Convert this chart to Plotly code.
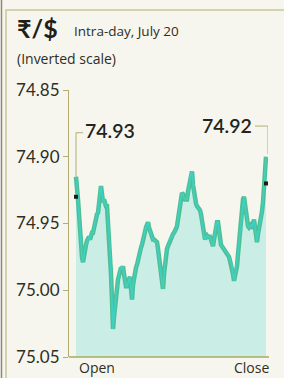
import plotly.graph_objects as go

# Intra-day rupee/dollar (inverted scale)
rate = [
    74.915, 74.921, 74.932, 74.943, 74.957, 74.968, 74.975, 74.979, 74.973, 74.969,
    74.966, 74.963, 74.962, 74.960, 74.962, 74.959, 74.957, 74.957, 74.953, 74.949,
    74.946, 74.943, 74.942, 74.932, 74.925, 74.922, 74.928, 74.934, 74.932, 74.936,
    74.937, 74.937, 74.947, 74.958, 74.969, 74.988, 75.007, 75.029, 75.020, 75.010,
    75.003, 74.999, 74.992, 74.988, 74.984, 74.983, 74.984, 74.982, 74.988, 74.993,
    74.997, 74.997, 74.993, 74.992, 74.990, 74.999, 75.007, 74.996, 74.990, 74.987,
    74.983, 74.981, 74.977, 74.975, 74.972, 74.968, 74.966, 74.962, 74.958, 74.956,
    74.953, 74.951, 74.949, 74.953, 74.956, 74.959, 74.960, 74.962, 74.962, 74.963,
    74.964, 74.964, 74.969, 74.975, 74.983, 74.990, 74.996, 74.999, 74.988, 74.978,
    74.973, 74.969, 74.967, 74.965, 74.962, 74.960, 74.960, 74.958, 74.957, 74.956,
    74.954, 74.952, 74.947, 74.940, 74.932, 74.930, 74.927, 74.928, 74.931, 74.932,
    74.932, 74.932, 74.926, 74.921, 74.916, 74.913, 74.911, 74.921, 74.928, 74.932,
    74.935, 74.937, 74.938, 74.939, 74.940, 74.943, 74.949, 74.954, 74.960, 74.962,
    74.960, 74.959, 74.960, 74.960, 74.960, 74.962, 74.966, 74.967, 74.962, 74.956,
    74.951, 74.949, 74.949, 74.956, 74.962, 74.966, 74.967, 74.968, 74.969, 74.970,
    74.971, 74.972, 74.973, 74.975, 74.978, 74.981, 74.982, 74.988, 74.993, 74.990,
    74.984, 74.982, 74.973, 74.964, 74.957, 74.949, 74.940, 74.932, 74.930, 74.936,
    74.943, 74.949, 74.952, 74.953, 74.952, 74.951, 74.952, 74.951, 74.947, 74.954,
    74.960, 74.964, 74.958, 74.954, 74.952, 74.947, 74.941, 74.934, 74.921, 74.910,
    74.900,
]
minutes = list(range(len(rate)))

open_rate = 74.93
close_rate = 74.92
open_label = "74.93"
close_label = "74.92"
y_ticks = [74.85, 74.90, 74.95, 75.00, 75.05]
y_tick_text = ["74.85", "74.90", "74.95", "75.00", "75.05"]
x_labels = ["Open", "Close"]
title_main = "₹/$"
title_sub = "Intra-day, July 20"
title_note = "(Inverted scale)"

W, H = 284, 378
ML, MR, MT, MB = 69, 16, 90, 21
PW, PH = W - ML - MR, H - MT - MB


def px(xp):
    return (xp - ML) / PW


def py(yp):
    return (H - MB - yp) / PH


FONT = "Lato, 'Noto Sans', 'DejaVu Sans', sans-serif"
FONT2 = "'Open Sans', 'Noto Sans', sans-serif"
TXT = "#2e2e24"
AXIS = "#b3ad73"
bottom = max(y_ticks)

fig = go.Figure()
fig.add_trace(go.Scatter(x=minutes, y=[bottom] * len(minutes), mode="lines",
                         line=dict(width=0, color="rgba(0,0,0,0)"),
                         hoverinfo="skip", showlegend=False))
fig.add_trace(go.Scatter(x=minutes, y=rate, mode="lines", fill="tonexty",
                         fillcolor="#caede6",
                         line=dict(color="#4fbe92", width=4.5),
                         showlegend=False))
fig.add_trace(go.Scatter(x=minutes, y=rate, mode="lines",
                         line=dict(color="#3fd0c2", width=1.8),
                         showlegend=False))
fig.add_trace(go.Scatter(x=[minutes[0], minutes[-1]], y=[open_rate, close_rate],
                         mode="markers",
                         marker=dict(color="#1d1d18", size=4, symbol="square"),
                         showlegend=False))

# leader lines
lead_open_y = 74.882
lead_close_y = 74.877
fig.add_shape(type="line", xref="x", yref="y", x0=minutes[0], x1=minutes[0],
              y0=rate[0], y1=lead_open_y, line=dict(color=AXIS, width=1))
fig.add_shape(type="line", xref="x", yref="y", x0=minutes[0], x1=minutes[0] + 7,
              y0=lead_open_y, y1=lead_open_y, line=dict(color=AXIS, width=1))
fig.add_shape(type="line", xref="x", yref="y", x0=minutes[-1] + 2, x1=minutes[-1] + 2,
              y0=rate[-1] - 0.002, y1=lead_close_y, line=dict(color=AXIS, width=1))
fig.add_shape(type="line", xref="x", yref="y", x0=minutes[-1] - 11, x1=minutes[-1] + 2,
              y0=lead_close_y, y1=lead_close_y, line=dict(color=AXIS, width=1))

fig.add_annotation(x=minutes[0] + 7, y=lead_open_y, xref="x", yref="y",
                   text=open_label, showarrow=False, xanchor="left", yanchor="middle",
                   yshift=2, font=dict(family=FONT, size=19.5, color="#24241c", weight=600))
fig.add_annotation(x=minutes[-1] - 12, y=lead_close_y, xref="x", yref="y",
                   text=close_label, showarrow=False, xanchor="right", yanchor="middle",
                   yshift=1, font=dict(family=FONT, size=19.5, color="#24241c", weight=600))

# Open / Close labels
fig.add_annotation(x=px(77), y=0, xref="paper", yref="paper", text=x_labels[0],
                   showarrow=False, xanchor="left", yanchor="top", yshift=1,
                   font=dict(family=FONT2, size=14, color=TXT))
fig.add_annotation(x=px(271), y=0, xref="paper", yref="paper", text=x_labels[1],
                   showarrow=False, xanchor="right", yanchor="top", yshift=1,
                   font=dict(family=FONT2, size=14, color=TXT))

# titles
fig.add_annotation(x=px(15), y=py(45), xref="paper", yref="paper", text="<b>" + title_main + "</b>",
                   showarrow=False, xanchor="left", yanchor="bottom",
                   font=dict(family=FONT, size=25, color="#1f1f18"))
fig.add_annotation(x=px(72), y=py(42), xref="paper", yref="paper", text=title_sub,
                   showarrow=False, xanchor="left", yanchor="bottom",
                   font=dict(family=FONT2, size=13.5, color=TXT))
fig.add_annotation(x=px(15), y=py(70), xref="paper", yref="paper", text=title_note,
                   showarrow=False, xanchor="left", yanchor="bottom",
                   font=dict(family=FONT2, size=14, color=TXT))

# frame
fig.add_shape(type="rect", xref="paper", yref="paper", x0=px(6), x1=px(300),
              y0=py(400), y1=py(10), line=dict(color="#c9c69a", width=1.5), layer="below")
fig.add_shape(type="line", xref="paper", yref="paper", x0=px(1.5), x1=px(1.5),
              y0=py(400), y1=py(-5), line=dict(color="#8a8a78", width=1.5), layer="below")

fig.update_layout(
    width=W, height=H,
    margin=dict(l=ML, r=MR, t=MT, b=MB, pad=0),
    paper_bgcolor="#f7f6ee", plot_bgcolor="rgba(0,0,0,0)",
    showlegend=False,
    xaxis=dict(range=[minutes[0] - 7, minutes[-1] + 2], showgrid=False, zeroline=False,
               showticklabels=False, ticks="", showline=False, fixedrange=True),
    yaxis=dict(range=[bottom, min(y_ticks)], tickvals=y_ticks, ticktext=y_tick_text,
               showgrid=False, zeroline=False, showline=True, linecolor=AXIS, linewidth=1.2,
               ticks="outside", ticklen=5, tickcolor=AXIS, tickwidth=1.2,
               tickfont=dict(family=FONT, size=17, color=TXT), fixedrange=True),
)
# bottom axis line
fig.add_shape(type="line", xref="paper", yref="paper", x0=0, x1=px(269), y0=0, y1=0,
              line=dict(color="#a7ab5f", width=1.5))

fig.write_html("out.html", config={"displayModeBar": False},
               post_script="document.body.style.margin='0';document.body.style.background='#f7f6ee';")
